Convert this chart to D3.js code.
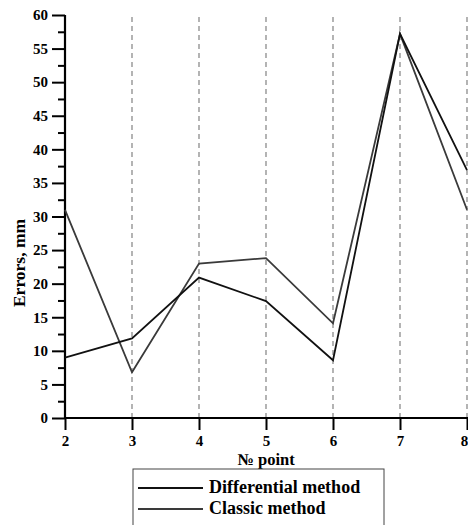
<!DOCTYPE html>
<html><head><meta charset="utf-8">
<script src="https://cdn.jsdelivr.net/npm/d3@7"></script>
<style>html,body{margin:0;padding:0;background:#fff;overflow:hidden}</style>
</head><body>
<svg id="c" width="468" height="525"></svg>
<script>
const points = [2, 3, 4, 5, 6, 7, 8];
const differential = [9.0, 11.85, 20.9, 17.4, 8.6, 57.2, 36.9];
const classic = [31.0, 6.8, 23.0, 23.8, 14.1, 57.2, 31.0];
const yMajorTicks = [0, 5, 10, 15, 20, 25, 30, 35, 40, 45, 50, 55, 60];
const yMinorTicks = [2.5, 7.5, 12.5, 17.5, 22.5, 27.5, 32.5, 37.5, 42.5, 47.5, 52.5, 57.5];
const seriesNames = ["Differential method", "Classic method"];

const svg = d3.select("#c");
const font = "'Liberation Serif','Times New Roman',serif";
const x = d3.scaleLinear().domain([2, 8]).range([65, 467]);
const y = d3.scaleLinear().domain([0, 60]).range([418, 15]);

// dashed grid lines
svg.append("g").selectAll("line").data(points.slice(1)).join("line")
  .attr("x1", d => x(d)).attr("x2", d => x(d))
  .attr("y1", 17).attr("y2", y(0))
  .attr("stroke", "#8c8c8c").attr("stroke-width", 1.3)
  .attr("stroke-dasharray", "5,4");

// Y axis major
const yAx = svg.append("g").attr("transform", `translate(${x(2)},0)`)
  .call(d3.axisLeft(y).tickValues(yMajorTicks).tickSize(13).tickPadding(4).tickFormat(d3.format("d")));
yAx.select(".domain").attr("stroke", "#000").attr("stroke-width", 2.2).attr("d", `M0,${y(60)}V${y(0)}`);
yAx.selectAll(".tick line").attr("stroke", "#000").attr("stroke-width", 2);
yAx.selectAll(".tick text").attr("font-family", font).attr("font-weight", "bold").attr("font-size", 15).attr("fill", "#000");
// Y minor
const yMin = svg.append("g").attr("transform", `translate(${x(2)},0)`)
  .call(d3.axisLeft(y).tickValues(yMinorTicks).tickSize(7).tickFormat(""));
yMin.select(".domain").remove();
yMin.selectAll(".tick line").attr("stroke", "#000").attr("stroke-width", 2);

// X axis
const xAx = svg.append("g").attr("transform", `translate(0,${y(0)})`)
  .call(d3.axisBottom(x).tickValues(points).tickSize(12).tickPadding(5).tickFormat(d3.format("d")));
xAx.select(".domain").attr("stroke", "#000").attr("stroke-width", 2.2).attr("d", `M${x(2)},0H468`);
xAx.selectAll(".tick line").attr("stroke", "#000").attr("stroke-width", 2);
xAx.selectAll(".tick text").attr("font-family", font).attr("font-weight", "bold").attr("font-size", 15).attr("fill", "#000");
xAx.selectAll(".tick text").filter(d => d === 8).attr("dx", -3);

// lines
const line = d3.line().x((d, i) => x(points[i])).y(d => y(d));
svg.append("path").datum(classic).attr("d", line).attr("fill", "none")
  .attr("stroke", "#3a3a3a").attr("stroke-width", 1.8);
svg.append("path").datum(differential).attr("d", line).attr("fill", "none")
  .attr("stroke", "#111").attr("stroke-width", 1.8);

// axis titles
svg.append("text").attr("x", x(5)).attr("y", 464.5).attr("text-anchor", "middle")
  .attr("font-family", font).attr("font-weight", "bold").attr("font-size", 16.5).text("№ point");
svg.append("text").attr("transform", "translate(25,263) rotate(-90)").attr("text-anchor", "middle")
  .attr("font-family", font).attr("font-weight", "bold").attr("font-size", 17.5).text("Errors, mm");

// legend
const lg = svg.append("g");
lg.append("rect").attr("x", 133).attr("y", 469).attr("width", 251).attr("height", 80)
  .attr("fill", "#fff").attr("stroke", "#444").attr("stroke-width", 1);
const colors = ["#111", "#3a3a3a"];
seriesNames.forEach((n, i) => {
  const yy = 488 + i * 21;
  lg.append("line").attr("x1", 138).attr("x2", 203).attr("y1", yy).attr("y2", yy)
    .attr("stroke", colors[i]).attr("stroke-width", 1.8);
  lg.append("text").attr("x", 209).attr("y", yy + 5).attr("font-family", font)
    .attr("font-weight", "bold").attr("font-size", 18).attr("fill", "#000").text(n);
});
</script>
</body></html>
